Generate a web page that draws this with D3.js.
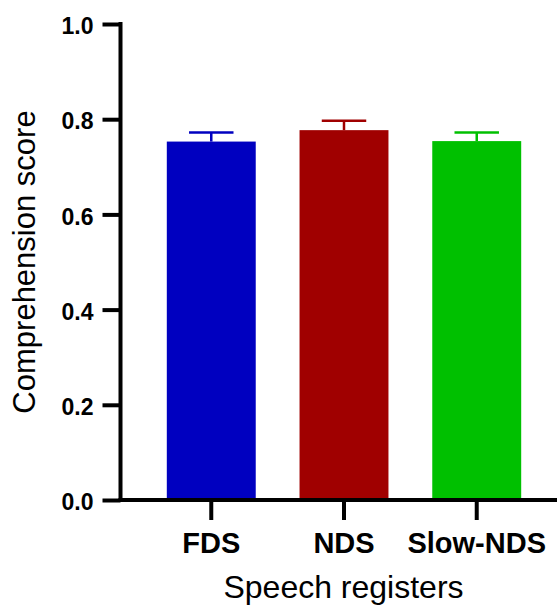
<!DOCTYPE html>
<html>
<head>
<meta charset="utf-8">
<script src="https://cdn.jsdelivr.net/npm/d3@7"></script>
<style>
  html, body { margin: 0; padding: 0; background: #fff; }
  svg { display: block; }
  text { font-family: "Liberation Sans", Arial, Helvetica, sans-serif; fill: #000; }
</style>
</head>
<body>
<svg id="chart" width="558" height="607"></svg>
<script>
// Comprehension scores (mean ± SEM) per speech register
const registers = ["FDS", "NDS", "Slow-NDS"];
const meanScores = [0.753, 0.777, 0.754];
const semScores = [0.019, 0.020, 0.018];
const barColors = ["#0000C0", "#A00000", "#00C000"];
const yTicks = [0.0, 0.2, 0.4, 0.6, 0.8, 1.0];

const svg = d3.select("#chart");

const axisX = 120.5;     // y-axis position
const baseY = 500;       // x-axis position
const topY = 24;
const rightX = 557;

const y = d3.scaleLinear().domain([0, 1]).range([baseY, topY]);
const x = d3.scaleBand().domain(registers).range([123, 565]).paddingInner(0.33).paddingOuter(0.33);

// Bars
svg.append("g")
  .selectAll("rect")
  .data(registers)
  .join("rect")
  .attr("x", d => x(d))
  .attr("width", x.bandwidth())
  .attr("y", (d, i) => y(meanScores[i]))
  .attr("height", (d, i) => y(0) - y(meanScores[i]))
  .attr("fill", (d, i) => barColors[i]);

// Error bars (upper only)
const capW = x.bandwidth() * 0.5;
const err = svg.append("g");
registers.forEach((d, i) => {
  const cx = x(d) + x.bandwidth() / 2;
  err.append("line")
    .attr("x1", cx).attr("x2", cx)
    .attr("y1", y(meanScores[i])).attr("y2", y(meanScores[i] + semScores[i]))
    .attr("stroke", barColors[i]).attr("stroke-width", 2.5);
  err.append("line")
    .attr("x1", cx - capW / 2).attr("x2", cx + capW / 2)
    .attr("y1", y(meanScores[i] + semScores[i])).attr("y2", y(meanScores[i] + semScores[i]))
    .attr("stroke", barColors[i]).attr("stroke-width", 2.5);
});

// Y axis
const yAxis = svg.append("g")
  .attr("transform", `translate(${axisX},0)`)
  .call(d3.axisLeft(y).tickValues(yTicks).tickFormat(d3.format(".1f")).tickSize(18).tickSizeOuter(0));
yAxis.select(".domain").remove();
yAxis.selectAll(".tick line").attr("stroke", "#000").attr("stroke-width", 4);
yAxis.selectAll(".tick text")
  .attr("x", -27).attr("dy", "0.42em")
  .style("font-size", "23px").style("font-weight", "bold");
yAxis.append("line")
  .attr("x1", 0).attr("x2", 0)
  .attr("y1", topY - 2).attr("y2", baseY + 2)
  .attr("stroke", "#000").attr("stroke-width", 4);

// X axis
const xAxis = svg.append("g")
  .attr("transform", `translate(0,${baseY})`)
  .call(d3.axisBottom(x).tickSize(20).tickSizeOuter(0));
xAxis.select(".domain").remove();
xAxis.selectAll(".tick line").attr("stroke", "#000").attr("stroke-width", 4);
xAxis.selectAll(".tick text")
  .attr("y", 53).attr("dy", "0")
  .style("font-size", "29px").style("font-weight", "bold");
xAxis.append("line")
  .attr("x1", axisX - 2).attr("x2", rightX)
  .attr("y1", 0).attr("y2", 0)
  .attr("stroke", "#000").attr("stroke-width", 4);

// Axis titles
svg.append("text")
  .attr("transform", `translate(35,${(topY + baseY) / 2}) rotate(-90)`)
  .attr("text-anchor", "middle")
  .style("font-size", "31px")
  .text("Comprehension score");

svg.append("text")
  .attr("x", 343.5).attr("y", 598)
  .attr("text-anchor", "middle")
  .style("font-size", "32px")
  .text("Speech registers");
</script>
</body>
</html>
